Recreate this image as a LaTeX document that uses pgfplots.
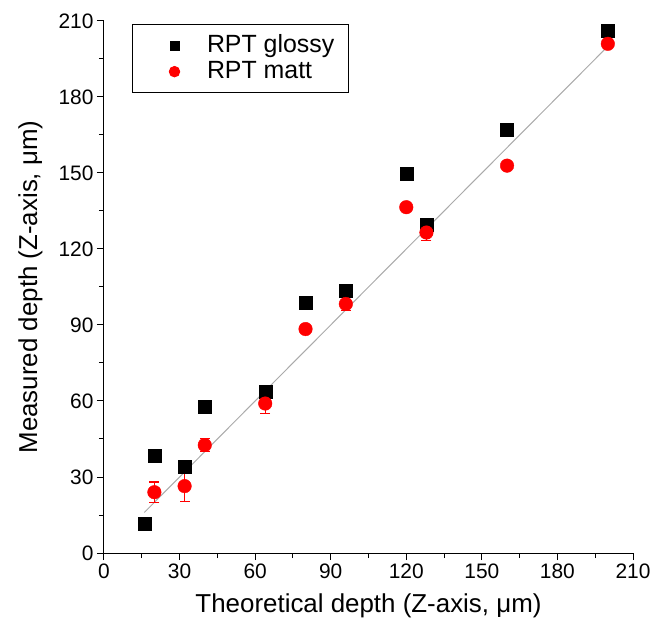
\documentclass[border=0pt]{standalone}
\usepackage{pgfplots}
\pgfplotsset{compat=1.18}
\usepackage{fontspec}
\setmainfont{Liberation Sans}
\definecolor{fitgray}{RGB}{170,170,170}
\begin{document}
\begin{tikzpicture}
\useasboundingbox (-104bp,-69bp) rectangle (565bp,553bp);
\begin{axis}[
  scale only axis, width=529bp, height=532bp,
  xmin=0, xmax=210, ymin=0, ymax=210,
  axis lines*=left,
  axis line style={line width=1bp},
  xtick={0,30,...,210}, ytick={0,30,...,210},
  minor x tick num=1, minor y tick num=1,
  tick align=outside, major tick length=7bp, minor tick length=5bp,
  every tick/.style={black, line width=1bp},
  /pgf/number format/assume math mode=true,
  ticklabel style={font=\fontsize{21}{24}\selectfont},
  label style={font=\fontsize{26}{30}\selectfont},
  xlabel={Theoretical depth (Z-axis, μm)},
  ylabel={Measured depth (Z-axis, μm)},
  xlabel style={at={(axis description cs:0.5,-0.0996)}, anchor=center},
  ylabel style={at={(axis description cs:-0.139,0.5)}, anchor=center},
  legend style={at={(0.052,0.994)}, anchor=north west, draw=black, line width=1bp,
    font=\fontsize{25}{29}\selectfont, row sep=-1bp, inner xsep=12bp, inner ysep=7.5bp,
    nodes={text height=18bp, text depth=5bp}},
  legend image code/.code={\path (-30bp,0bp) (30bp,0bp); \draw[#1] plot coordinates {(0bp,0bp)};},
  legend cell align=left,
  clip=false,
]
\addplot[fitgray, line width=1bp, forget plot] coordinates {(16,16) (200,200)};
\addplot[only marks, mark=square*, mark size=6.5bp, mark options={black, fill=black},
  legend image post style={mark size=4.5bp}]
  coordinates {(16,11.5) (20,38.3) (32,34) (40,57.8) (64,63.5) (80,98.8) (96,103.6) (120,149.9) (128,129.5) (160,167) (200,206)};
\addlegendentry{RPT glossy}
\addplot[only marks, mark=*, mark size=6.8bp, mark options={red, fill=red, draw=red},
  legend image post style={mark size=5.2bp},
  error bars/.cd, y dir=both, y explicit,
  error bar style={red, line width=1.2bp},
  error mark options={rotate=90, red, mark size=5bp, line width=1.2bp}]
  coordinates {(20,24) +- (0,4) (32,26.4) +- (0,6) (40,42.6) +- (0,2.5) (64,59) +- (0,4) (80,88.4) +- (0,1) (96,98.3) +- (0,2.5) (120,136.5) +- (0,1) (128,126.5) +- (0,3) (160,152.9) +- (0,1) (200,201) +- (0,1)};
\addlegendentry{RPT matt}
\end{axis}
\end{tikzpicture}
\end{document}
